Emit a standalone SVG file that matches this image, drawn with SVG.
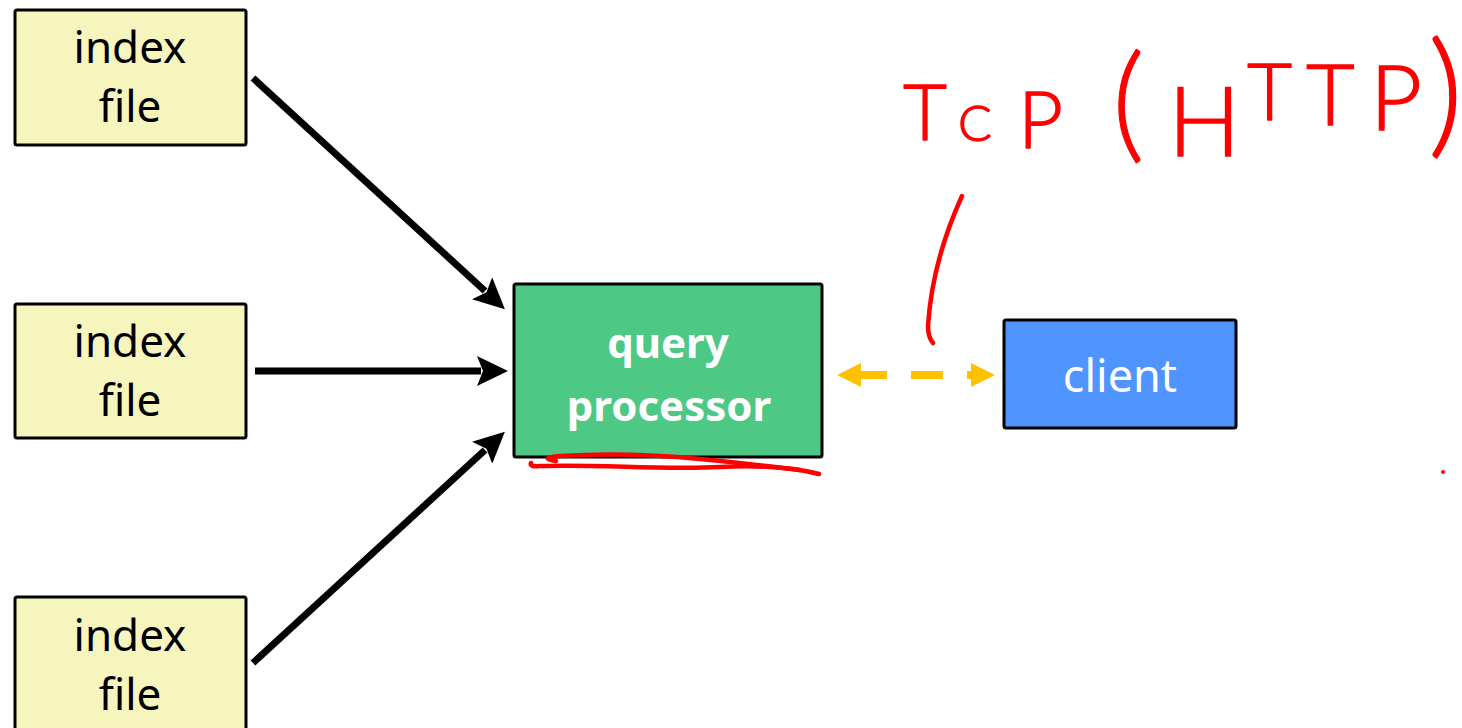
<svg xmlns="http://www.w3.org/2000/svg" width="1462" height="728" viewBox="0 0 1462 728">
  <style>
    .idx { fill: #F5F5BD; stroke: #000; stroke-width: 3; }
    .idx-t { font-family: "Noto Sans", "Open Sans", sans-serif; font-size: 44px; fill: #000; text-anchor: middle; }
    .flow { stroke: #000; stroke-width: 7; fill: none; }
    .ink { stroke: #FF0000; stroke-width: 4.5; fill: none; stroke-linecap: round; stroke-linejoin: round; }
    .hand { font-family: Lato, "Noto Sans", sans-serif; font-weight: 300; fill: #FF0000; stroke: #FF0000; stroke-width: 1.3; stroke-linejoin: round; }
  </style>
  <defs>
    <marker id="blackHead" markerUnits="userSpaceOnUse" markerWidth="32" markerHeight="30" refX="4" refY="15" orient="auto">
      <path d="M0,0 L31,15 L0,30 L6,15 Z" fill="#000"/>
    </marker>
    <marker id="goldHead" markerUnits="userSpaceOnUse" markerWidth="26" markerHeight="24" refX="1" refY="12" orient="auto-start-reverse">
      <path d="M0,0 L24,12 L0,24 Z" fill="#FFC000"/>
    </marker>
  </defs>

  <rect width="1462" height="728" fill="#FFFFFF"/>

  <!-- index files -->
  <g id="index-file-1">
    <rect class="idx" x="15" y="10" width="231" height="135" rx="2"/>
    <text class="idx-t" x="130" y="63">index</text>
    <text class="idx-t" x="130" y="122">file</text>
  </g>
  <g id="index-file-2">
    <rect class="idx" x="15" y="304" width="231" height="134" rx="2"/>
    <text class="idx-t" x="130" y="357">index</text>
    <text class="idx-t" x="130" y="416">file</text>
  </g>
  <g id="index-file-3">
    <rect class="idx" x="15" y="597" width="231" height="140" rx="2"/>
    <text class="idx-t" x="130" y="651">index</text>
    <text class="idx-t" x="130" y="710">file</text>
  </g>

  <!-- query processor -->
  <g id="query-processor">
    <rect x="514" y="284" width="308" height="173" rx="2" fill="#4EC885" stroke="#000" stroke-width="3"/>
    <text x="668" y="358" font-family="'Noto Sans', 'Open Sans', sans-serif" font-size="42" font-weight="bold" fill="#FFFFFF" text-anchor="middle">query</text>
    <text x="669" y="421" font-family="'Noto Sans', 'Open Sans', sans-serif" font-size="42" font-weight="bold" fill="#FFFFFF" text-anchor="middle">processor</text>
  </g>

  <!-- client -->
  <g id="client">
    <rect x="1004" y="320" width="232" height="108" rx="2" fill="#4F94FF" stroke="#000" stroke-width="3"/>
    <text x="1120" y="392" font-family="'Noto Sans', 'Open Sans', sans-serif" font-size="45" fill="#FFFFFF" text-anchor="middle">client</text>
  </g>

  <!-- connectors -->
  <g id="connectors">
    <line class="flow" x1="253" y1="78" x2="485" y2="291" marker-end="url(#blackHead)"/>
    <line class="flow" x1="255" y1="371" x2="481" y2="371" marker-end="url(#blackHead)"/>
    <line class="flow" x1="253" y1="663" x2="485" y2="450" marker-end="url(#blackHead)"/>
    <line x1="860" y1="375" x2="972" y2="375" stroke="#FFC000" stroke-width="8" stroke-dasharray="27 24 32 24 8" marker-start="url(#goldHead)" marker-end="url(#goldHead)"/>
  </g>

  <!-- red pen annotations -->
  <g id="annotation">
    <text class="hand">
      <tspan x="903" y="140" font-size="76">T</tspan><tspan x="958" y="141" font-size="50">C</tspan><tspan x="1018" y="148" font-size="78">P</tspan><tspan x="1112" y="146" font-size="126">(</tspan><tspan x="1168" y="156" font-size="96">H</tspan><tspan x="1247" y="120" font-size="78">T</tspan><tspan x="1306" y="125" font-size="84">T</tspan><tspan x="1370" y="130" font-size="90">P</tspan><tspan x="1428" y="140" font-size="136">)</tspan>
    </text>
    <path class="ink" d="M962,196 Q932,262 928,326 Q928,337 933,343"/>
    <path class="ink" stroke-width="5" d="M531,463 Q529,467 540,466 C600,464 660,470 720,467 C760,465 795,468 819,474"/>
    <path class="ink" stroke-width="5" d="M556,461 Q538,458 560,456 C610,453 660,455 700,459 C740,463 770,466 800,470"/>
    <circle cx="1443" cy="472" r="2" fill="#FF0000"/>
  </g>
</svg>
